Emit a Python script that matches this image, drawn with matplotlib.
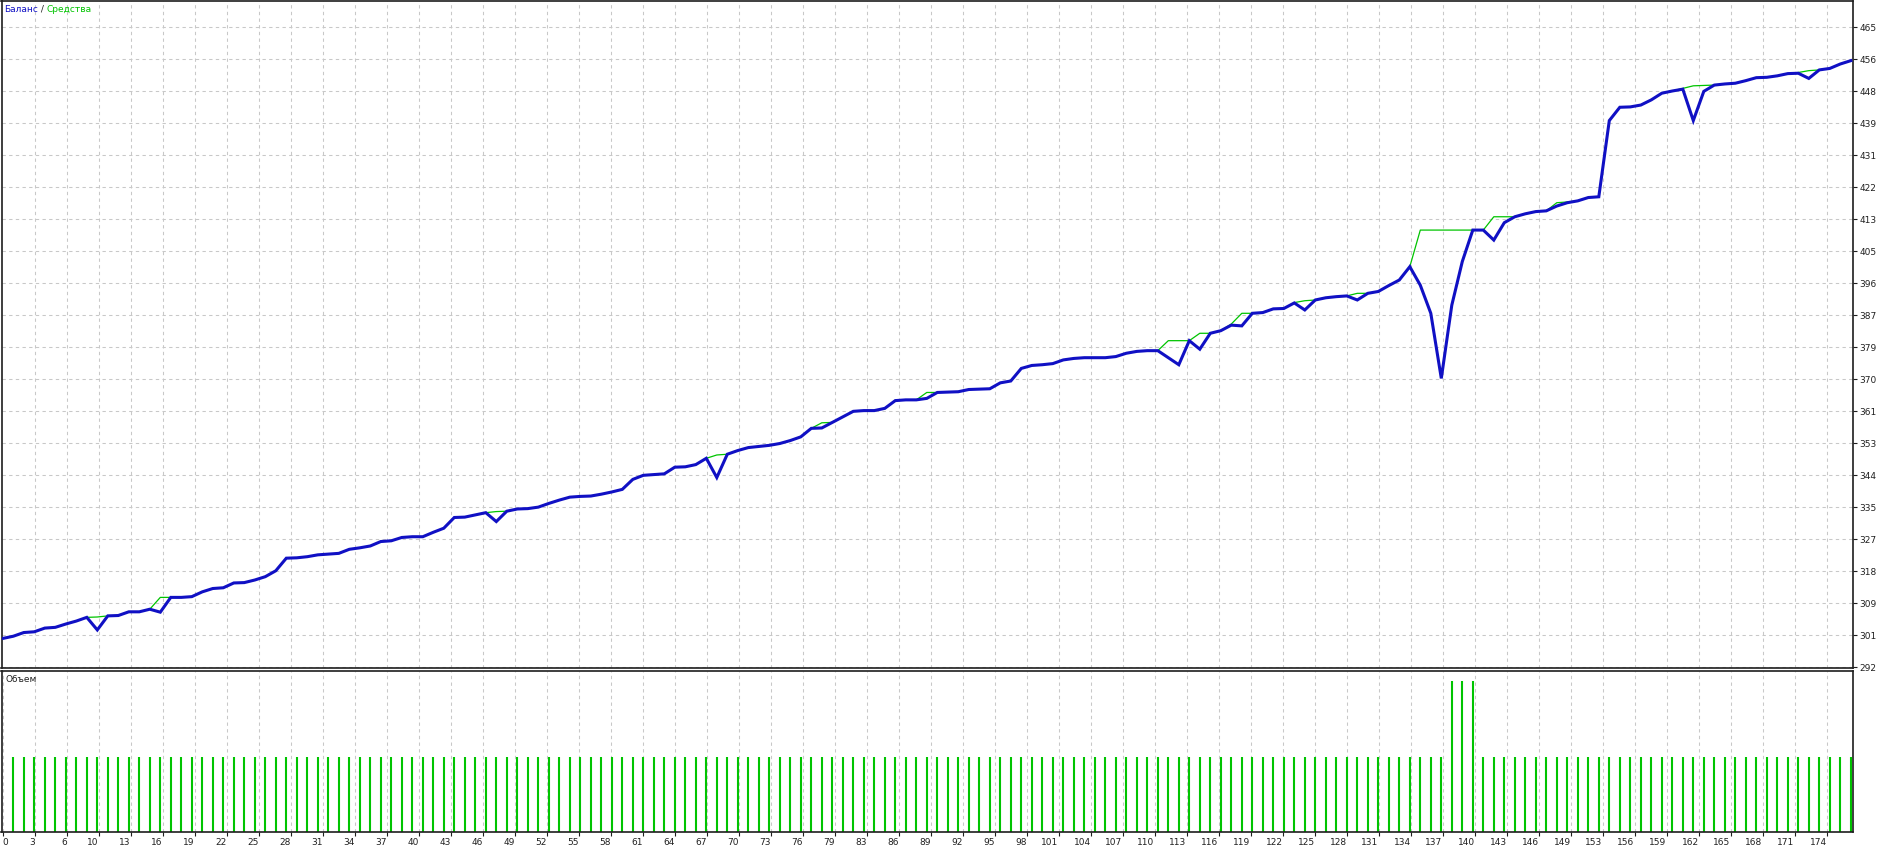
import matplotlib
matplotlib.use("Agg")
import matplotlib.pyplot as plt
import numpy as np

# balance (blue) per trade
balance = [
    299.8, 300.4, 301.4, 301.6, 302.6, 302.8, 303.7, 304.5, 305.5, 302.1,
    305.9, 306.0, 307.0, 307.0, 307.7, 306.9, 310.9, 310.9, 311.1, 312.4,
    313.3, 313.5, 314.8, 314.9, 315.6, 316.5, 318.1, 321.5, 321.6, 321.9,
    322.4, 322.6, 322.8, 323.9, 324.3, 324.8, 326.0, 326.2, 327.1, 327.3,
    327.3, 328.5, 329.6, 332.5, 332.6, 333.2, 333.8, 331.4, 334.2, 334.8,
    334.9, 335.3, 336.3, 337.2, 338.0, 338.2, 338.3, 338.8, 339.4, 340.1,
    342.8, 343.9, 344.1, 344.3, 346.1, 346.2, 346.8, 348.5, 343.3, 349.6,
    350.6, 351.4, 351.7, 352.0, 352.5, 353.3, 354.3, 356.6, 356.7, 358.2,
    359.7, 361.2, 361.4, 361.4, 362.0, 364.1, 364.3, 364.3, 364.7, 366.3,
    366.4, 366.5, 367.1, 367.2, 367.3, 368.9, 369.4, 372.8, 373.6, 373.8,
    374.1, 375.1, 375.5, 375.7, 375.7, 375.7, 376.0, 376.9, 377.4, 377.6,
    377.6, 375.7, 373.8, 380.3, 378.0, 382.3, 383.0, 384.5, 384.3, 387.7,
    387.9, 388.9, 389.0, 390.5, 388.6, 391.3, 391.9, 392.2, 392.4, 391.3,
    393.1, 393.6, 395.2, 396.7, 400.3, 395.3, 387.7, 370.1, 389.9, 401.7,
    410.2, 410.2, 407.5, 412.2, 413.8, 414.6, 415.2, 415.4, 416.7, 417.6,
    418.1, 419.0, 419.2, 439.8, 443.4, 443.5, 444.0, 445.4, 447.2, 447.8,
    448.3, 439.8, 447.7, 449.4, 449.7, 449.9, 450.6, 451.4, 451.5, 451.9,
    452.5, 452.6, 451.2, 453.5, 453.9, 455.1, 456.0,
]

# equity (green)
equity = [
    299.8, 300.4, 301.4, 301.6, 302.6, 302.8, 303.7, 304.5, 305.5, 305.6,
    305.9, 306.0, 307.0, 307.0, 307.7, 310.9, 310.9, 310.9, 311.1, 312.4,
    313.3, 313.5, 314.8, 314.9, 315.6, 316.5, 318.1, 321.5, 321.6, 321.9,
    322.4, 322.6, 322.8, 323.9, 324.3, 324.8, 326.0, 326.2, 327.1, 327.3,
    327.3, 328.5, 329.6, 332.5, 332.6, 333.2, 333.8, 334.1, 334.2, 334.8,
    334.9, 335.3, 336.3, 337.2, 338.0, 338.2, 338.3, 338.8, 339.4, 340.1,
    342.8, 343.9, 344.1, 344.3, 346.1, 346.2, 346.8, 348.5, 349.4, 349.6,
    350.6, 351.4, 351.7, 352.0, 352.5, 353.3, 354.3, 356.6, 358.1, 358.2,
    359.7, 361.2, 361.4, 361.4, 362.0, 364.1, 364.3, 364.3, 366.3, 366.3,
    366.4, 366.5, 367.1, 367.2, 367.3, 368.9, 369.4, 372.8, 373.6, 373.8,
    374.1, 375.1, 375.5, 375.7, 375.7, 375.7, 376.0, 376.9, 377.4, 377.6,
    377.6, 380.3, 380.3, 380.3, 382.3, 382.3, 383.0, 384.8, 387.7, 387.7,
    387.9, 388.9, 389.0, 390.6, 391.1, 391.3, 391.9, 392.2, 392.4, 393.1,
    393.1, 393.6, 395.2, 396.7, 400.3, 410.2, 410.2, 410.2, 410.2, 410.2,
    410.2, 410.2, 413.8, 413.8, 413.8, 414.6, 415.2, 415.4, 417.6, 417.8,
    418.1, 419.0, 419.2, 439.8, 443.4, 443.5, 444.0, 445.4, 447.2, 447.8,
    448.5, 449.2, 449.3, 449.4, 449.7, 449.9, 450.6, 451.4, 451.5, 451.9,
    452.5, 452.8, 453.3, 453.5, 453.9, 455.1, 456.0,
]

# lots per trade (trades 1..176)
volume = [0.01] * 137 + [0.02, 0.02, 0.02] + [0.01] * 36

y_labels = ["292", "301", "309", "318", "327", "335", "344", "353", "361", "370",
            "379", "387", "396", "405", "413", "422", "431", "439", "448", "456", "465"]
x_labels = ["0", "3", "6", "10", "13", "16", "19", "22", "25", "28",
            "31", "34", "37", "40", "43", "46", "49", "52", "55", "58",
            "61", "64", "67", "70", "73", "76", "79", "83", "86", "89",
            "92", "95", "98", "101", "104", "107", "110", "113", "116", "119",
            "122", "125", "128", "131", "134", "137", "140", "143", "146", "149",
            "153", "156", "159", "162", "165", "168", "171", "174"]

W, H = 1901, 850
BLUE = "#1010c4"
GREEN = "#00c400"
GRID = "#c8c8c8"
FRAME = "#1e1e1e"
FS = 6.5

plt.rcParams["font.family"] = ["DejaVu Sans"]
plt.rcParams["lines.scale_dashes"] = False


def px_axes(fig, left, top, right, bottom):
    return fig.add_axes([left / W, 1 - bottom / H, (right - left) / W, (bottom - top) / H])


def style_frame(ax):
    for s in ax.spines.values():
        s.set_color(FRAME)
        s.set_linewidth(1.2)


fig = plt.figure(figsize=(W / 100, H / 100), dpi=100)
fig.patch.set_facecolor("white")

ax = px_axes(fig, 1.5, 1, 1853, 668)
axv = px_axes(fig, 1.5, 670.5, 1853, 832)

# pixel -> index scale (10.5 px per trade, first point at x=2.8)
x0, step = 2.8, 10.5
xlim = ((1.5 - x0) / step, (1853 - x0) / step)
grid_x = (2.7 + 32 * np.arange(len(x_labels)) - x0) / step

idx = np.arange(len(balance))

# --- balance / equity panel
ax.plot(idx, equity, color=GREEN, lw=0.9, zorder=3)
ax.plot(idx, balance, color=BLUE, lw=2.2, zorder=4, solid_joinstyle="miter")
ax.set_xlim(*xlim)
y_ticks = np.linspace(292, 465, len(y_labels))
ax.set_ylim(291.81, 472.13)
ax.set_yticks(y_ticks)
ax.set_yticklabels(y_labels, fontsize=FS, color="#202020")
ax.yaxis.tick_right()
ax.tick_params(axis="y", direction="out", length=3, width=0.8, pad=1.5, colors=FRAME, labelcolor="#202020")
ax.set_xticks(grid_x[1:])
ax.tick_params(axis="x", length=0, labelbottom=False)
ax.grid(True, color=GRID, lw=0.75, linestyle=(0, (2.4, 2.4)))
ax.set_axisbelow(True)
style_frame(ax)

# --- volume panel
axv.vlines(idx[1:], 0, volume, color=GREEN, lw=1.5)
axv.set_xlim(*xlim)
axv.set_ylim(0, 0.02146)
axv.set_yticks([])
axv.set_xticks(grid_x)
axv.set_xticklabels(x_labels, fontsize=FS, color="#202020", ha="right")
axv.get_xticklabels()[0].set_ha("left")
axv.tick_params(axis="x", direction="out", length=3, width=0.8, pad=1.5, colors=FRAME, labelcolor="#202020")
axv.grid(True, axis="x", color=GRID, lw=0.75, linestyle=(0, (2.4, 2.4)))
axv.set_axisbelow(True)
style_frame(axv)
axv.text(4 / 1851.5, 1 - 9 / 161.5, "Объем", transform=axv.transAxes,
         fontsize=FS, color="#202020", va="center", ha="left")

# legend text: Баланс / Средства
fig.canvas.draw()
r = fig.canvas.get_renderer()
xpos = 4
for txt, col in [("Баланс", BLUE), (" / ", "#202020"), ("Средства", GREEN)]:
    t = fig.text(xpos / W, 1 - 9 / H, txt, fontsize=FS, color=col, va="center", ha="left")
    xpos += t.get_window_extent(r).width

fig.savefig("out.png", dpi=100, facecolor="white")
